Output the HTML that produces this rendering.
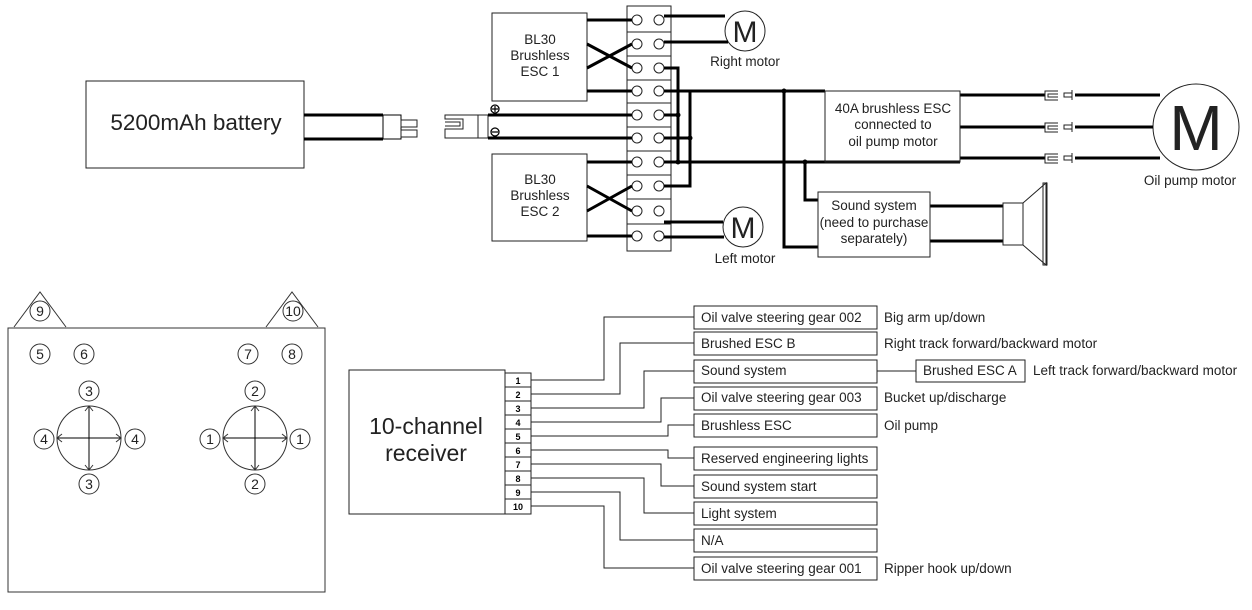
<!DOCTYPE html>
<html><head><meta charset="utf-8"><style>
html,body{margin:0;padding:0;background:#fff}
svg{display:block;font-family:"Liberation Sans",sans-serif}
</style></head><body>
<svg width="1252" height="610" viewBox="0 0 1252 610" xmlns="http://www.w3.org/2000/svg">
<rect width="1252" height="610" fill="#fff"/>
<g fill="none" stroke="#222" stroke-width="1">
<rect x="86" y="81" width="218" height="87"/>
<rect x="383" y="115" width="18" height="24" stroke="#000"/>
<rect x="401" y="120" width="16" height="7"/><rect x="401" y="130" width="16" height="7"/>
<path d="M478 115 H445 V119 H463 V129 H445 V138 H478"/>
<path d="M445 122 H460 V126 H445"/>
<rect x="478" y="115" width="10" height="23"/>
<rect x="492" y="13" width="95" height="88"/>
<rect x="492" y="154" width="95" height="87"/>
<rect x="627" y="6" width="44" height="245"/>
<path d="M627 32 H671 M627 56 H671 M627 80 H671 M627 103 H671 M627 127 H671 M627 151 H671 M627 175 H671 M627 199 H671 M627 224 H671"/>
</g>
<g fill="none" stroke="#222" stroke-width="1">
<circle cx="637" cy="20" r="5"/><circle cx="659" cy="20" r="5"/>
<circle cx="637" cy="44" r="5"/><circle cx="659" cy="44" r="5"/>
<circle cx="637" cy="68" r="5"/><circle cx="659" cy="68" r="5"/>
<circle cx="637" cy="91" r="5"/><circle cx="659" cy="91" r="5"/>
<circle cx="637" cy="115" r="5"/><circle cx="659" cy="115" r="5"/>
<circle cx="637" cy="138" r="5"/><circle cx="659" cy="138" r="5"/>
<circle cx="637" cy="162" r="5"/><circle cx="659" cy="162" r="5"/>
<circle cx="637" cy="186" r="5"/><circle cx="659" cy="186" r="5"/>
<circle cx="637" cy="211" r="5"/><circle cx="659" cy="211" r="5"/>
<circle cx="637" cy="236" r="5"/><circle cx="659" cy="236" r="5"/>
<circle cx="745" cy="31" r="20"/><circle cx="743" cy="227" r="20"/>
<circle cx="1196" cy="127" r="43"/>
</g>
<g fill="none" stroke="#000" stroke-width="3">
<path d="M304 115 H383 M304 139 H383"/>
<path d="M488 115 H632 M488 138 H632"/>
<path d="M587 20 H632 M587 44 L632 68 M587 68 L632 44 M587 91 H632"/>
<path d="M587 162 H632 M587 186 L632 211 M587 211 L632 186 M587 236 H632"/>
<path d="M664 16 H725 M664 42 H728"/>
<path d="M664 222 H723 M664 237 H724"/>
<path d="M664 68 H678 V162 M664 115 H678"/>
<path d="M664 91 H825 M664 162 H960 M664 138 H690 V186 H664"/>
<path d="M690 91 V186"/>
<path d="M784 91 V247 H818 M805 162 V200 H818"/>
<path d="M960 95 H1045 M960 127 H1045 M960 158 H1045"/>
<path d="M1075 95 H1160 M1075 127 H1153 M1075 158 H1160"/>
<path d="M930 206 H1003 M930 241 H1003"/>
</g>
<g fill="#000"><circle cx="678" cy="115" r="2.5"/><circle cx="690" cy="138" r="2.5"/><circle cx="678" cy="162" r="2.5"/><circle cx="784" cy="91" r="2.5"/><circle cx="805" cy="162" r="2.5"/></g>
<g fill="#fff" stroke="#000" stroke-width="1.3">
<circle cx="495" cy="109" r="4"/><circle cx="495" cy="132" r="4"/>
</g>
<path d="M492 109 H498 M495 106 V112 M492 132 H498" stroke="#000" stroke-width="1.2"/>
<g fill="none" stroke="#222" stroke-width="1">
<rect x="825" y="91" width="135" height="71"/>
<rect x="818" y="192" width="112" height="65"/>
<rect x="1003" y="203" width="20" height="42"/>
<path d="M1023 203 L1046 183 V265 L1023 245"/>
<rect x="1043" y="183" width="4" height="82"/>
<path d="M1058 91 H1045 V100 H1058 M1058 94 H1048 V97 H1058"/>
<path d="M1064 93 H1072 V97 H1064 Z M1072 90 V100"/>
<path d="M1058 123 H1045 V132 H1058 M1058 126 H1048 V129 H1058"/>
<path d="M1064 125 H1072 V129 H1064 Z M1072 122 V132"/>
<path d="M1058 154 H1045 V163 H1058 M1058 157 H1048 V160 H1058"/>
<path d="M1064 156 H1072 V160 H1064 Z M1072 153 V163"/>
</g>
<g font-size="13.5" fill="#222" text-anchor="middle">
<text x="196" y="130" font-size="22.5">5200mAh battery</text>
<text x="540" y="44">BL30</text><text x="540" y="60">Brushless</text><text x="540" y="76">ESC 1</text>
<text x="540" y="184">BL30</text><text x="540" y="200">Brushless</text><text x="540" y="216">ESC 2</text>
<text x="745" y="42" font-size="30">M</text><text x="743" y="238" font-size="30">M</text>
<text x="745" y="66">Right motor</text><text x="745" y="263">Left motor</text>
<text x="893" y="113">40A brushless ESC</text><text x="893" y="129">connected to</text><text x="893" y="146">oil pump motor</text>
<text x="874" y="210">Sound system</text><text x="874" y="227">(need to purchase</text><text x="874" y="243">separately)</text>
<text x="1196" y="150" font-size="64">M</text><text x="1190" y="185">Oil pump motor</text>
</g>
<g fill="none" stroke="#333" stroke-width="1">
<rect x="8" y="328" width="317" height="264"/>
<path d="M14 327 L40 292 L66 327 M266 327 L292 292 L318 327"/>
<circle cx="40" cy="311" r="10"/><circle cx="293" cy="311" r="10"/>
<circle cx="40" cy="354" r="10"/><circle cx="84" cy="354" r="10"/><circle cx="248" cy="354" r="10"/><circle cx="292" cy="354" r="10"/>
<circle cx="89" cy="438" r="32"/><circle cx="255" cy="438" r="32"/>
<circle cx="89" cy="391" r="10"/><circle cx="89" cy="484" r="10"/><circle cx="44" cy="439" r="10"/><circle cx="135" cy="439" r="10"/>
<circle cx="255" cy="391" r="10"/><circle cx="255" cy="484" r="10"/><circle cx="210" cy="439" r="10"/><circle cx="300" cy="439" r="10"/>
<path d="M89 406 V470 M57 438 H121 M255 406 V470 M223 438 H287" stroke="#000"/>
<path d="M85 411 L89 406 L93 411 M85 465 L89 470 L93 465 M62 434 L57 438 L62 442 M116 434 L121 438 L116 442"/>
<path d="M251 411 L255 406 L259 411 M251 465 L255 470 L259 465 M228 434 L223 438 L228 442 M282 434 L287 438 L282 442"/>
</g>
<g font-size="14" fill="#222" text-anchor="middle">
<text x="40" y="316">9</text><text x="293" y="316">10</text>
<text x="40" y="359">5</text><text x="84" y="359">6</text><text x="248" y="359">7</text><text x="292" y="359">8</text>
<text x="89" y="396">3</text><text x="89" y="489">3</text><text x="44" y="444">4</text><text x="135" y="444">4</text>
<text x="255" y="396">2</text><text x="255" y="489">2</text><text x="210" y="444">1</text><text x="300" y="444">1</text>
</g>
<g fill="none" stroke="#222" stroke-width="1">
<rect x="349" y="370" width="156" height="144"/>
<rect x="505" y="373" width="26" height="141"/>
<path d="M505 387 H531 M505 401 H531 M505 415 H531 M505 429 H531 M505 443 H531 M505 457 H531 M505 471 H531 M505 485 H531 M505 499 H531"/>
<path d="M531 380 H604 V317 H694 M531 394 H620 V343 H694 M531 408 H644 V371 H694 M531 422 H661 V398 H694 M531 436 H668 V425 H694 M531 450 H668 V458 H694 M531 464 H661 V486 H694 M531 478 H644 V513 H694 M531 492 H620 V540 H694 M531 506 H604 V568 H694"/>
<rect x="694" y="306" width="183" height="23"/><rect x="694" y="332" width="183" height="23"/>
<rect x="694" y="360" width="183" height="23"/><rect x="694" y="387" width="183" height="23"/>
<rect x="694" y="414" width="183" height="23"/><rect x="694" y="447" width="183" height="23"/>
<rect x="694" y="475" width="183" height="23"/><rect x="694" y="502" width="183" height="23"/>
<rect x="694" y="529" width="183" height="23"/><rect x="694" y="557" width="183" height="23"/>
<path d="M877 371 H916"/><rect x="916" y="360" width="109" height="22"/>
</g>
<g font-size="9" font-weight="bold" fill="#000" text-anchor="middle">
<text x="518" y="384">1</text><text x="518" y="398">2</text><text x="518" y="412">3</text><text x="518" y="426">4</text><text x="518" y="440">5</text><text x="518" y="454">6</text><text x="518" y="468">7</text><text x="518" y="482">8</text><text x="518" y="496">9</text><text x="518" y="510">10</text>
</g>
<g font-size="13.5" fill="#222">
<text x="426" y="434" font-size="23" text-anchor="middle">10-channel</text>
<text x="426" y="461" font-size="23" text-anchor="middle">receiver</text>
<text x="701" y="322">Oil valve steering gear 002</text><text x="701" y="348">Brushed ESC B</text>
<text x="701" y="375">Sound system</text><text x="701" y="402">Oil valve steering gear 003</text>
<text x="701" y="430">Brushless ESC</text><text x="701" y="463">Reserved engineering lights</text>
<text x="701" y="491">Sound system start</text><text x="701" y="518">Light system</text>
<text x="701" y="545">N/A</text><text x="701" y="573">Oil valve steering gear 001</text>
<text x="884" y="322">Big arm up/down</text><text x="884" y="348">Right track forward/backward motor</text>
<text x="884" y="402">Bucket up/discharge</text><text x="884" y="430">Oil pump</text><text x="884" y="573">Ripper hook up/down</text>
<text x="923" y="375">Brushed ESC A</text><text x="1033" y="375">Left track forward/backward motor</text>
</g>
</svg>
</body></html>
